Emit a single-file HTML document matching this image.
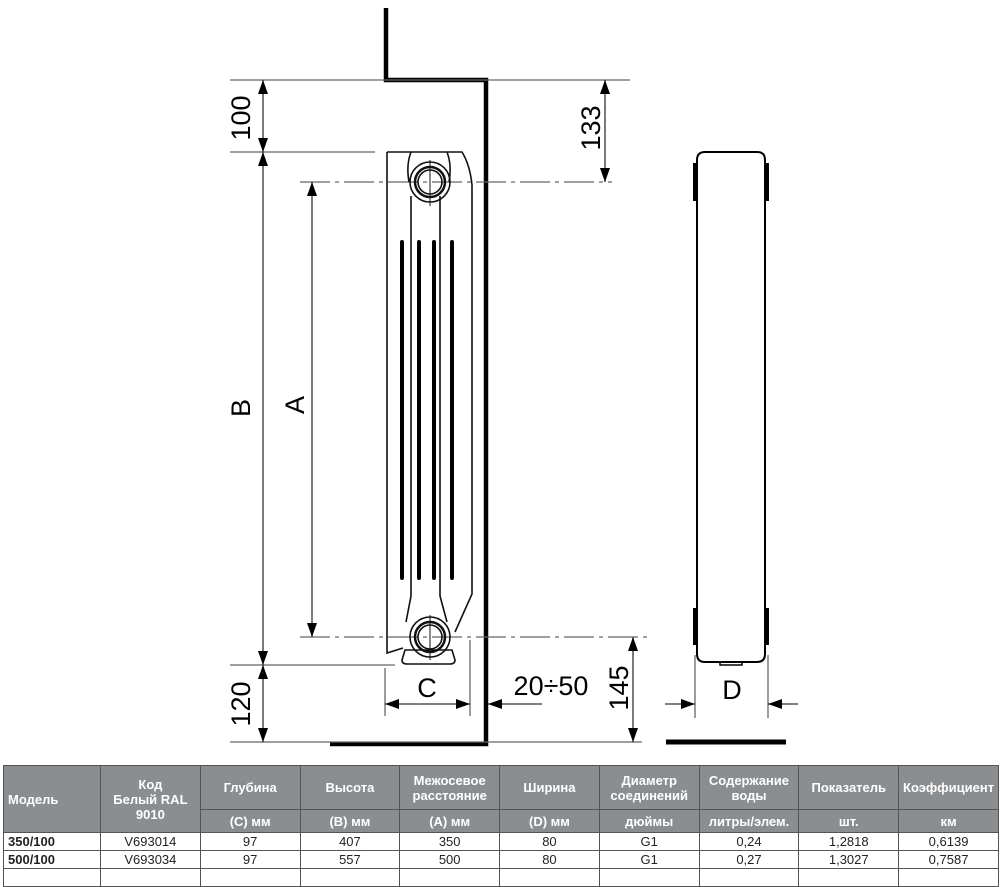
<!DOCTYPE html>
<html><head><meta charset="utf-8"><style>
html,body{margin:0;padding:0;background:#fff;width:1000px;height:880px;overflow:hidden}
svg{position:absolute;left:0;top:0}
table{position:absolute;left:3px;top:765px;border-collapse:collapse;font-family:"Liberation Sans","DejaVu Sans",sans-serif;font-size:13px;table-layout:fixed;width:996px}
td,th{border:1.5px solid #555;text-align:center;padding:0;line-height:15px;overflow:hidden;white-space:nowrap}
th{background:#8b8e91;color:#fff;font-weight:bold}
td{height:17px;color:#222}
td.b{font-weight:bold;text-align:left;padding-left:4px}
</style></head><body>
<svg width="1000" height="760" viewBox="0 0 1000 760" font-family="Liberation Sans, sans-serif">
<defs>
<marker id="ar" viewBox="0 0 14 10" refX="14" refY="5" markerWidth="14" markerHeight="10" markerUnits="userSpaceOnUse" orient="auto-start-reverse"><path d="M0,0 L14,5 L0,10 z" fill="#000"/></marker>
</defs>
<path d="M386,8 V80 H486 V744 H330" fill="none" stroke="#000" stroke-width="4.5"/>
<path d="M666,742 H786" stroke="#000" stroke-width="5"/>
<g stroke="#666" stroke-width="1.3" fill="none">
<path d="M230,80 H630"/>
<path d="M230,152 H375"/>
<path d="M230,665 H395"/>
<path d="M230,742 H642"/>
<path d="M300,182 H612" stroke-dasharray="30,5,4,5"/>
<path d="M300,637 H652" stroke-dasharray="30,5,4,5"/>
<path d="M385,668 V716 M470,640 V716"/>
<path d="M695,655 V718 M768,655 V718"/>
</g>
<g stroke="#333" stroke-width="1.3" fill="none">
<path d="M263,80 V152" marker-start="url(#ar)" marker-end="url(#ar)"/>
<path d="M263,152 V665" marker-start="url(#ar)" marker-end="url(#ar)"/>
<path d="M263,665 V742" marker-start="url(#ar)" marker-end="url(#ar)"/>
<path d="M312,182 V637" marker-start="url(#ar)" marker-end="url(#ar)"/>
<path d="M605,80 V182" marker-start="url(#ar)" marker-end="url(#ar)"/>
<path d="M633,637 V742" marker-start="url(#ar)" marker-end="url(#ar)"/>
<path d="M385,704 H470" marker-start="url(#ar)" marker-end="url(#ar)"/>
<path d="M542,704 H488" marker-end="url(#ar)"/>
<path d="M665,704 H695" marker-end="url(#ar)"/>
<path d="M798,704 H768" marker-end="url(#ar)"/>
</g>
<g font-size="27" fill="#000" text-anchor="middle">
<text transform="translate(250,118) rotate(-90)">100</text>
<text transform="translate(250,408) rotate(-90)">B</text>
<text transform="translate(250,704) rotate(-90)">120</text>
<text transform="translate(304,405) rotate(-90)">A</text>
<text transform="translate(600,128) rotate(-90)">133</text>
<text transform="translate(628,688) rotate(-90)">145</text>
<text x="427" y="697">C</text>
<text x="551" y="695">20÷50</text>
<text x="732" y="699">D</text>
</g>
<g fill="none" stroke="#111" stroke-width="1.6">
<path d="M387,152 H462 Q470,165 472,185 V594 L455,632"/>
<path d="M387,152 V653 L403,648"/>
<path d="M411,152 Q406,165 409,182 M447,152 Q452,165 449,182"/>
<path d="M411,196 V596 L406,622 M440,196 L440,596 L447,622"/>
<path d="M402,660 L405,650 H452 L455,660 Q455,664 450,664 H407 Q402,664 402,660 z"/>
<circle cx="430" cy="182" r="20"/>
<circle cx="430" cy="182" r="15" stroke-width="2.5"/>
<circle cx="430" cy="182" r="12"/>
<circle cx="430" cy="637" r="20"/>
<circle cx="430" cy="637" r="15" stroke-width="2.5"/>
<circle cx="430" cy="637" r="12"/>
<path d="M430,160 V206 M430,615 V660" stroke-width="1"/>
</g>
<g stroke="#000" stroke-width="4" stroke-linecap="round">
<path d="M402,242 V578 M419,242 V578 M434,242 V578 M452,242 V578"/>
</g>
<path d="M697,160 Q697,152 705,152 H757 Q765,152 765,160 V654 Q765,662 757,662 H705 Q697,662 697,654 z" fill="none" stroke="#000" stroke-width="2"/>
<path d="M720,662 V665 H742 V662" fill="none" stroke="#000" stroke-width="1.5"/>
<g stroke="#000" stroke-width="4">
<path d="M695,163 V201 M767,163 V201 M695,608 V645 M767,608 V645"/>
</g>
</svg>
<table>
<colgroup><col style="width:97px"><col><col><col><col><col><col><col><col><col></colgroup>
<tr style="height:44px"><th rowspan="2" style="text-align:left;padding-left:4px">Модель</th><th rowspan="2">Код<br>Белый RAL<br>9010</th><th>Глубина</th><th>Высота</th><th>Межосевое<br>расстояние</th><th>Ширина</th><th>Диаметр<br>соединений</th><th>Содержание<br>воды</th><th>Показатель</th><th>Коэффициент</th></tr>
<tr style="height:23px"><th>(C) мм</th><th>(B) мм</th><th>(A) мм</th><th>(D) мм</th><th>дюймы</th><th>литры/элем.</th><th>шт.</th><th>км</th></tr>
<tr><td class="b">350/100</td><td>V693014</td><td>97</td><td>407</td><td>350</td><td>80</td><td>G1</td><td>0,24</td><td>1,2818</td><td>0,6139</td></tr>
<tr><td class="b">500/100</td><td>V693034</td><td>97</td><td>557</td><td>500</td><td>80</td><td>G1</td><td>0,27</td><td>1,3027</td><td>0,7587</td></tr>
<tr><td></td><td></td><td></td><td></td><td></td><td></td><td></td><td></td><td></td><td></td></tr>
</table>
</body></html>
